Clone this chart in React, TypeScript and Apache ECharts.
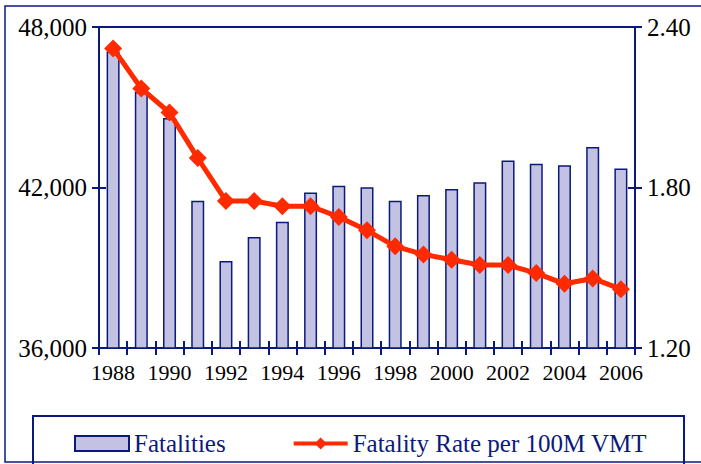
import React, { useEffect, useRef } from "react";
import * as echarts from "echarts";

const years = ["1988","1989","1990","1991","1992","1993","1994","1995","1996","1997","1998","1999","2000","2001","2002","2003","2004","2005","2006"];
const fatalities = [47087,45582,44599,41508,39250,40150,40716,41817,42065,42013,41501,41717,41945,42196,43005,42884,42836,43510,42708];
const fatalityRate = [2.32,2.17,2.08,1.91,1.75,1.75,1.73,1.73,1.69,1.64,1.58,1.55,1.53,1.51,1.51,1.48,1.44,1.46,1.42];

const NAVY = "#0a1a7a";
const RED = "#ff2a00";
const FONT = "Liberation Serif";

export default function App() {
  const ref = useRef<HTMLDivElement>(null);
  useEffect(() => {
    document.body.style.margin = "0";
    const chart = echarts.init(ref.current!, null, { renderer: "svg" });
    const axisLine = { show: true, lineStyle: { color: NAVY, width: 2 } };
    const tick = (inside: boolean) => ({ show: true, inside, length: 7, lineStyle: { color: NAVY, width: 2 } });
    chart.setOption({
      animation: false,
      textStyle: { fontFamily: FONT },
      grid: { left: 99, right: 66, top: 27, bottom: 116, show: true, borderColor: NAVY, borderWidth: 2, backgroundColor: "transparent" },
      legend: {
        left: 69,
        top: 426,
        itemWidth: 54,
        itemHeight: 15,
        itemGap: 66,
        textStyle: { fontFamily: FONT, fontSize: 25, color: NAVY },
        data: [
          { name: "Fatalities", icon: "rect" },
          { name: "Fatality Rate per 100M VMT", lineStyle: { width: 4 } },
        ],
      },
      graphic: [
        { type: "rect", shape: { x: 5, y: 6, width: 720, height: 456 }, style: { fill: "none", stroke: NAVY, lineWidth: 1.5 }, silent: true },
        { type: "rect", shape: { x: 33, y: 416, width: 651, height: 60 }, style: { fill: "none", stroke: NAVY, lineWidth: 2 }, silent: true },
      ],
      xAxis: [
        {
          type: "category", data: years, position: "bottom", boundaryGap: true,
          axisLine, axisTick: { ...tick(false), interval: 0, alignWithLabel: false },
          axisLabel: { interval: 1, fontFamily: FONT, fontSize: 22, color: "#000", margin: 13 },
        },
        {
          type: "category", data: years, position: "bottom", boundaryGap: true,
          axisLine: { show: false }, axisTick: { ...tick(true), interval: 0 }, axisLabel: { show: false },
        },
      ],
      yAxis: [
        {
          type: "value", position: "left", min: 36000, max: 48000, interval: 6000,
          axisLine, axisTick: tick(false), splitLine: { show: false },
          axisLabel: { fontFamily: FONT, fontSize: 25, color: "#000", margin: 12, formatter: (v: number) => v.toLocaleString("en-US") },
        },
        {
          type: "value", position: "right", min: 1.2, max: 2.4, interval: 0.6,
          axisLine, axisTick: tick(false), splitLine: { show: false },
          axisLabel: { fontFamily: FONT, fontSize: 25, color: "#000", margin: 12, formatter: (v: number) => v.toFixed(2) },
        },
        {
          type: "value", position: "left", min: 36000, max: 48000, interval: 6000,
          axisLine: { show: false }, axisTick: tick(true), axisLabel: { show: false }, splitLine: { show: false },
        },
        {
          type: "value", position: "right", min: 1.2, max: 2.4, interval: 0.6,
          axisLine: { show: false }, axisTick: tick(true), axisLabel: { show: false }, splitLine: { show: false },
        },
      ],
      series: [
        {
          name: "Fatalities", type: "bar", data: fatalities, xAxisIndex: 0, yAxisIndex: 0, barWidth: 13,
          itemStyle: { color: "#c4c2e2", borderColor: NAVY, borderWidth: 1.5 },
        },
        {
          name: "Fatality Rate per 100M VMT", type: "line", data: fatalityRate, xAxisIndex: 0, yAxisIndex: 1,
          symbol: "diamond", symbolSize: 18, z: 5,
          lineStyle: { color: RED, width: 5 },
          itemStyle: { color: RED },
        },
      ],
    });
    return () => chart.dispose();
  }, []);
  return <div ref={ref} style={{ position: "absolute", left: 0, top: 0, width: 701, height: 464 }} />;
}
